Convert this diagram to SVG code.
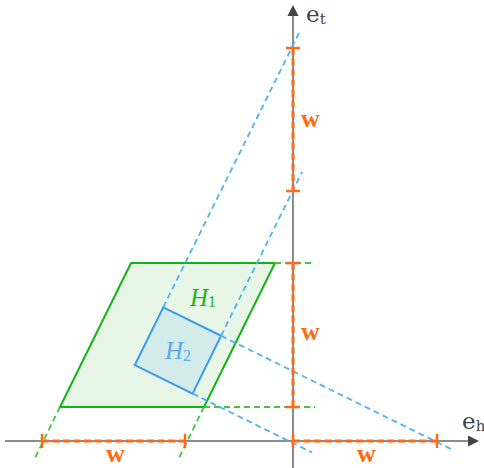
<svg xmlns="http://www.w3.org/2000/svg" width="484" height="468" viewBox="0 0 484 468">
<defs>
<style>
.axis{stroke:#666;stroke-width:1.5;fill:none}
.ah{fill:#444}
.gd{stroke:#44c444;stroke-width:1.8;stroke-dasharray:6,4;fill:none}
.bd{stroke:#4db3f5;stroke-width:1.8;stroke-dasharray:6,4;fill:none}
.od{stroke:#ff6a13;stroke-width:3;stroke-dasharray:7,3.5;fill:none}
.tk{stroke:#ff6a13;stroke-width:2.5;fill:none}
.lbl{font-family:"DejaVu Serif",serif;fill:#444}
.w{font-family:"Liberation Serif",serif;font-weight:bold;font-size:26px;fill:#ff6a13}
.hl{font-family:"Liberation Serif",serif;font-style:italic}
</style>
</defs>
<g id="axes">
<line class="axis" x1="5" y1="441" x2="470" y2="441"/>
<polygon class="ah" points="479,441 468,435.5 468,446.5"/>
<line class="axis" x1="293" y1="468" x2="293" y2="15"/>
<polygon class="ah" points="293,5 287.5,16 298.5,16"/>
</g>
<g id="H1">
<polygon points="131,263 275,263 204,407 60,407" fill="#e8f6e8" stroke="#12b312" stroke-width="2"/>
</g>
<g id="H2">
<polygon points="163.3,307.3 221.1,335.8 192.6,393.6 134.8,365.1" fill="#cfeaea" fill-opacity="0.85" stroke="#3a9af0" stroke-width="2"/>
</g>
<g id="connectors">
<line class="gd" x1="275" y1="263" x2="315" y2="263"/>
<line class="gd" x1="204" y1="407" x2="315" y2="407"/>
<line class="gd" x1="60" y1="407" x2="34" y2="460"/>
<line class="gd" x1="204" y1="407" x2="178" y2="460"/>
<line class="bd" x1="163.3" y1="307.3" x2="300" y2="31"/>
<line class="bd" x1="221.1" y1="335.8" x2="302" y2="172"/>
<line class="bd" x1="221.1" y1="335.8" x2="453" y2="450"/>
<line class="bd" x1="192.6" y1="393.6" x2="312" y2="452.5"/>
<line class="od" x1="293" y1="48" x2="293" y2="191"/>
<line class="od" x1="293" y1="263" x2="293" y2="407"/>
<line class="od" x1="42" y1="441" x2="185" y2="441"/>
<line class="od" x1="293" y1="441" x2="437" y2="441"/>
<line class="tk" x1="286" y1="48" x2="300" y2="48"/>
<line class="tk" x1="286" y1="191" x2="300" y2="191"/>
<line class="tk" x1="286" y1="263" x2="300" y2="263"/>
<line class="tk" x1="286" y1="407" x2="300" y2="407"/>
<line class="tk" x1="42" y1="434" x2="42" y2="448"/>
<line class="tk" x1="185" y1="434" x2="185" y2="448"/>
<line class="tk" x1="293" y1="434" x2="293" y2="448"/>
<line class="tk" x1="437" y1="434" x2="437" y2="448"/>
</g>
<g id="labels">
<text class="lbl" x="306" y="21.5" font-size="23">e<tspan font-size="15" dy="2.5">t</tspan></text>
<text class="lbl" x="462" y="428.5" font-size="23">e<tspan font-size="15" dy="2.5">h</tspan></text>
<text class="w" x="301" y="126.5">w</text>
<text class="w" x="301" y="339.5">w</text>
<text class="w" x="106" y="462">w</text>
<text class="w" x="357" y="462">w</text>
<text class="hl" x="190" y="306" font-size="25" fill="#1db51d">H<tspan font-size="16" font-style="normal" dy="1">1</tspan></text>
<text class="hl" x="165" y="359" font-size="25" fill="#5aa8f0">H<tspan font-size="16" font-style="normal" dy="2">2</tspan></text>
</g>
</svg>
